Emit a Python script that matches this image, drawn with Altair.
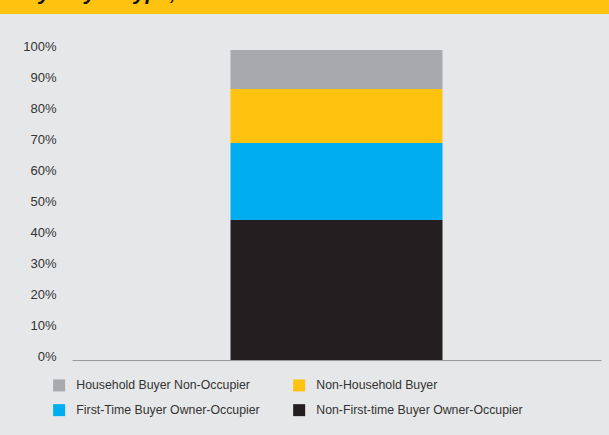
import altair as alt
import pandas as pd

categories = ["Household Buyer Non-Occupier", "Non-Household Buyer",
              "First-Time Buyer Owner-Occupier", "Non-First-time Buyer Owner-Occupier"]
shares = [12.6, 17.4, 24.8, 45.2]
stack_order = [4, 3, 2, 1]
colors = ["#a7a9ac", "#ffc20e", "#00aeef", "#231f20"]
legend_order = [0, 2, 1, 3]
tick_values = [0, 10, 20, 30, 40, 50, 60, 70, 80, 90, 100]
title_fragment = "by Buyer Type,"

df = pd.DataFrame({"bar": [""] * 4, "type": categories, "share": shares, "ord": stack_order})

FONT = "Liberation Sans"
W, H = 529, 310

dom = [categories[i] for i in legend_order]
rng = [colors[i] for i in legend_order]

bars = alt.Chart(df).mark_bar(size=212).encode(
    x=alt.X("bar:N", scale=alt.Scale(paddingInner=0, paddingOuter=0.75),
            axis=alt.Axis(labels=False, ticks=False, title=None, domainColor="#999999",
                          domainWidth=1.2)),
    y=alt.Y("share:Q", stack="zero",
            scale=alt.Scale(domain=[0, 100], nice=False),
            axis=alt.Axis(values=tick_values, labelExpr="datum.value + '%'", title=None,
                          domain=False, ticks=False, grid=False, labelPadding=16,
                          labelOffset=-4, labelFont=FONT, labelFontSize=13,
                          labelColor="#333333")),
    color=alt.Color("type:N", scale=alt.Scale(domain=dom, range=rng),
                    legend=alt.Legend(title=None, orient="none", legendX=-19, legendY=329,
                                      columns=2, columnPadding=33, rowPadding=12,
                                      symbolType="square", symbolSize=144,
                                      symbolStrokeWidth=0, labelOffset=11, labelLimit=0,
                                      labelFont=FONT, labelFontSize=12.3,
                                      labelColor="#333333")),
    order=alt.Order("ord:Q"),
)

banner_df = pd.DataFrame({"t": [title_fragment]})
banner = alt.Chart(banner_df).mark_rect(color="#ffc20e").encode(
    x=alt.value(-72), x2=alt.value(W + 8), y=alt.value(-50), y2=alt.value(-36)
)
banner_text = alt.Chart(banner_df).mark_text(
    align="left", baseline="alphabetic", font=FONT, fontSize=21,
    fontWeight="bold", fontStyle="italic", color="#111111"
).encode(text="t:N", x=alt.value(-46), y=alt.value(-50))

chart = alt.layer(banner, banner_text, bars).properties(
    width=W, height=H,
    autosize=alt.AutoSizeParams(type="none"),
    padding={"left": 72, "top": 50, "right": 8, "bottom": 75},
    background="#e6e7e8",
).configure_view(stroke=None)

chart.save("out.html", embed_options={"renderer": "svg", "actions": False})
